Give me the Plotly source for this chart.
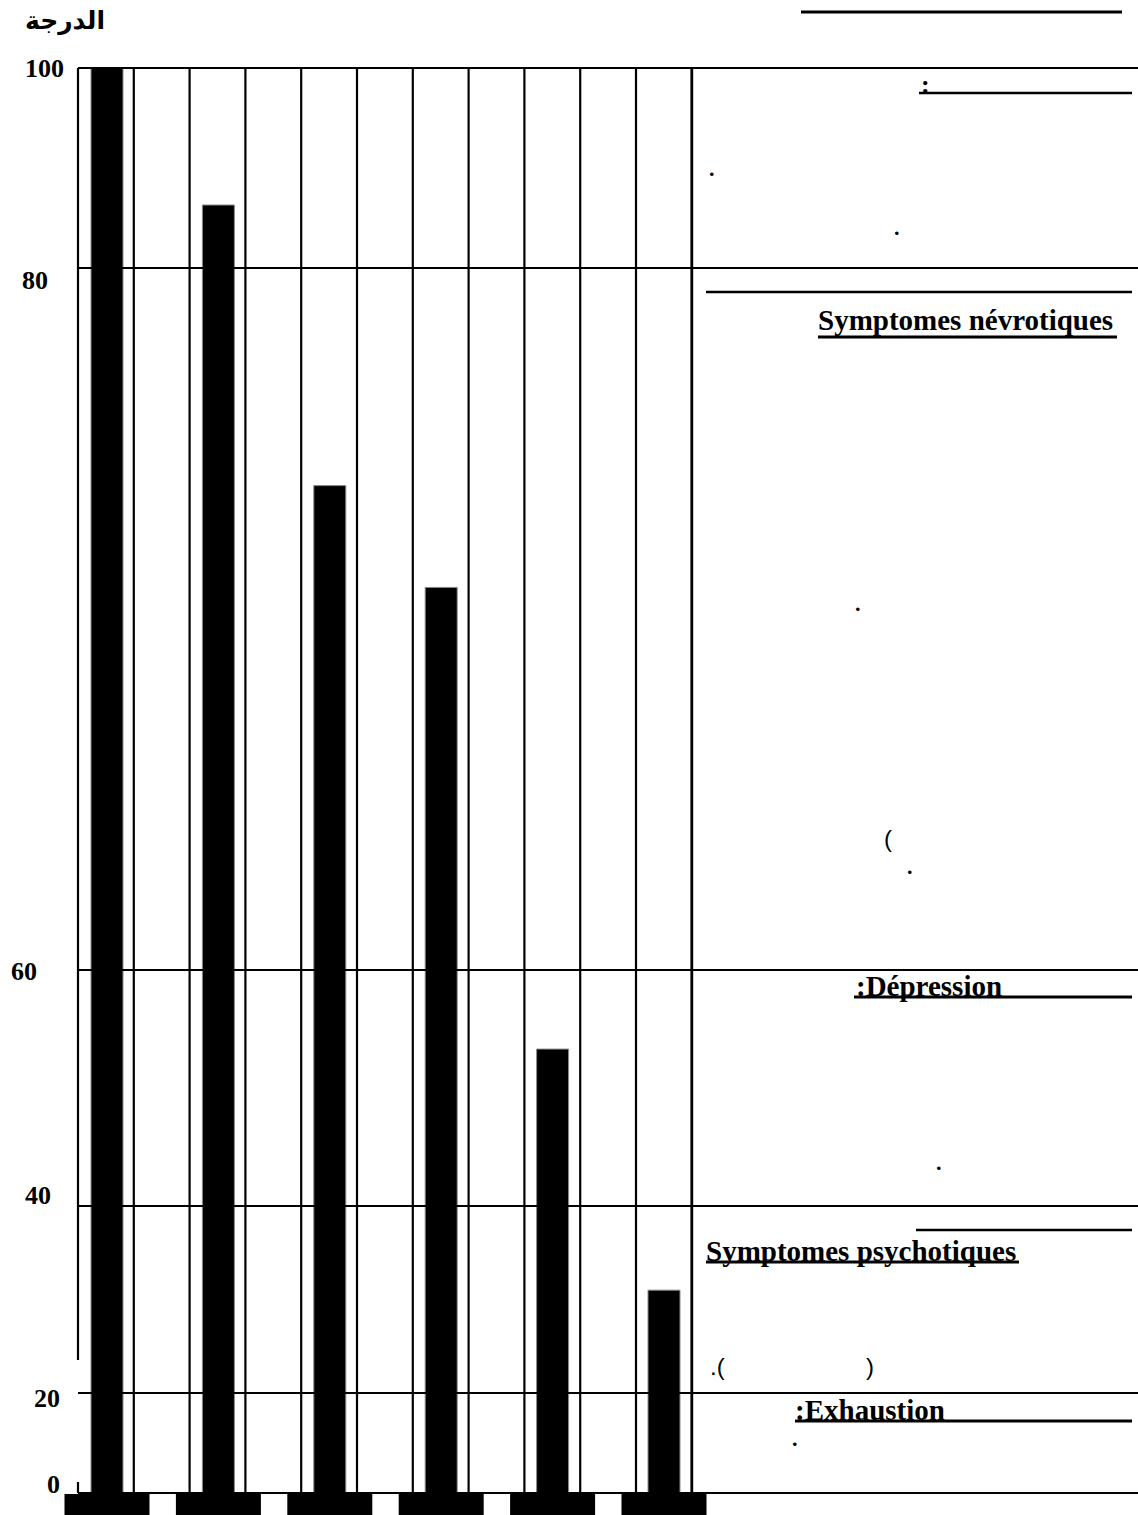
import numpy as np
import plotly.graph_objects as go

# ---------------- data ----------------
bar_index = [0, 1, 2, 3, 4, 5]
bar_values = [100, 86.3, 73.8, 70.9, 53.3, 31.0]
tick_values = [0, 20, 40, 60, 80, 100]
tick_text = ["0", "20", "40", "60", "80", "100"]
y_title = "الدرجة"

# ---------------- layout constants ----------------
W, H = 1138, 1515
ZERO_ROW = 1493              # pixel row of the zero line
scale_px = [0, 100, 287, 523, 1225, 1425]   # drawn (non-linear) axis: value -> px above zero line
BAR0_PX, BAR_STEP = 107, 111.4               # category 0 centre / category spacing in px


def ypos(v):
    return np.interp(v, tick_values, scale_px)


def px(x):
    return x / W


def py(y):
    return 1 - y / H


def yd(y):  # pixel row -> y data units
    return ZERO_ROW - y


fig = go.Figure()

# bars
fig.add_trace(go.Bar(
    x=bar_index, y=ypos(bar_values), base=0,
    width=32 / BAR_STEP,
    marker=dict(color="black", line=dict(color="#8a8a8a", width=1)),
    hoverinfo="skip", showlegend=False,
))
# foot blocks under the bars
fig.add_trace(go.Bar(
    x=bar_index, y=[21] * len(bar_index), base=-22,
    width=85 / BAR_STEP,
    marker=dict(color="black", line=dict(width=0)),
    hoverinfo="skip", showlegend=False,
))

shapes = []
LW = 2.2
# horizontal grid lines (at scale ticks)
for v in tick_values:
    shapes.append(dict(type="line", xref="paper", yref="y",
                       x0=px(78), x1=px(W), y0=ypos(v), y1=ypos(v),
                       line=dict(color="black", width=LW)))
# vertical grid lines
for k in range(1, 12):
    xx = 78 + 55.8 * k
    shapes.append(dict(type="line", xref="paper", yref="paper",
                       x0=px(xx), x1=px(xx), y0=py(68), y1=py(ZERO_ROW),
                       line=dict(color="black", width=LW + (0.6 if k == 11 else 0))))
# left axis
for (a, b) in [(68, 1360), (1482, ZERO_ROW)]:
    shapes.append(dict(type="line", xref="paper", yref="paper",
                       x0=px(78), x1=px(78), y0=py(a), y1=py(b),
                       line=dict(color="black", width=LW)))
# top rule
shapes.append(dict(type="line", xref="paper", yref="paper",
                   x0=px(801), x1=px(1122), y0=py(12), y1=py(12),
                   line=dict(color="black", width=3)))
# underlines in the text column
for (x0, x1, y, w) in [(919, 1132, 93, 2.5), (706, 1132, 292, 2.5), (818, 1117, 337, 3),
                       (854, 1132, 997, 3), (916, 1132, 1230, 2.5), (706, 1019, 1262, 3),
                       (795, 1132, 1421, 3)]:
    shapes.append(dict(type="line", xref="paper", yref="paper",
                       x0=px(x0), x1=px(x1), y0=py(y), y1=py(y),
                       line=dict(color="black", width=w)))

annotations = []
SERIF = "Liberation Serif, Times New Roman, serif"
SANS = "Liberation Sans, Arial, sans-serif"


def txt(text, x, y, size, family=SERIF, xanchor="left", bold=True):
    t = f"<b>{text}</b>" if bold else text
    annotations.append(dict(text=t, x=px(x), y=py(y), xref="paper", yref="paper",
                            xanchor=xanchor, yanchor="middle", showarrow=False,
                            font=dict(family=family, size=size, color="black")))


# axis title
annotations.append(dict(text=f"<b>{y_title}</b>", x=px(65), y=py(20), xref="paper", yref="paper",
                        xanchor="center", yanchor="middle", showarrow=False,
                        font=dict(family="DejaVu Sans", size=25, color="black")))
# tick labels
tick_left = [45, 32, 23, 9, 20, 23]
tick_shift = [9, -5, 11, -1, -12, 0]
for v, t, xl, sh in zip(tick_values, tick_text, tick_left, tick_shift):
    annotations.append(dict(text=f"<b>{t}</b>", x=px(xl), y=ypos(v), xref="paper", yref="y",
                            xanchor="left", yanchor="middle", yshift=sh, showarrow=False,
                            font=dict(family=SERIF, size=26, color="black")))

# text column
txt(":", 919, 84, 26)
for (x, y) in [(711, 176), (896, 234), (857, 610), (909, 874), (938, 1169), (794, 1445)]:
    txt(".", x - 4, y - 7, 22)
txt("(", 882, 838, 24, family=SANS, bold=False)
txt(".(", 708, 1366, 24, family=SANS, bold=False)
txt(")", 864, 1366, 24, family=SANS, bold=False)
txt("Symptomes névrotiques", 816, 320, 29)
txt(":Dépression", 854, 986, 29)
txt("Symptomes psychotiques", 704, 1251, 29)
txt(":Exhaustion", 793, 1410, 29)

fig.update_layout(
    width=W, height=H,
    margin=dict(l=0, r=0, t=0, b=0),
    paper_bgcolor="white", plot_bgcolor="white",
    barmode="overlay",
    xaxis=dict(range=[(0 - BAR0_PX) / BAR_STEP, (W - BAR0_PX) / BAR_STEP],
               visible=False, fixedrange=True),
    yaxis=dict(range=[yd(H), yd(0)], visible=False, fixedrange=True),
    shapes=shapes,
    annotations=annotations,
    showlegend=False,
)

fig.write_html("out.html", config={"displayModeBar": False},
               post_script="document.body.style.margin='0';document.body.style.overflow='hidden';")
